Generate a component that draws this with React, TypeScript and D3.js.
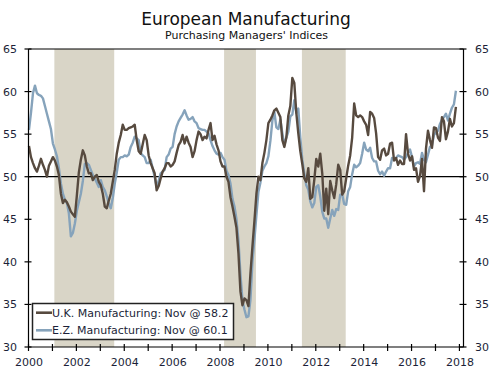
import React from "react";
import * as d3 from "d3";

// Monthly PMI values, Jan 2000 .. Nov 2017
const ukPmi: number[] = [
  // 2000
  53.6, 52.3, 51.6, 51.0, 50.6, 51.3, 52.1, 51.4, 50.8, 50.0, 51.3, 51.8,
  // 2001
  52.3, 51.9, 51.2, 50.2, 48.0, 46.9, 47.3, 47.0, 46.5, 45.9, 45.6, 45.3,
  // 2002
  47.8, 50.5, 52.0, 53.1, 52.5, 51.2, 50.4, 50.4, 49.6, 50.0, 50.2, 49.4,
  // 2003
  49.0, 48.0, 46.5, 46.3, 47.2, 48.0, 49.4, 50.8, 52.7, 54.0, 54.9, 56.1,
  // 2004
  55.5, 55.5, 55.7, 55.8, 55.9, 56.1, 54.3, 53.0, 52.7, 53.8, 54.9, 54.3,
  // 2005
  52.5, 51.6, 51.0, 50.4, 48.4, 48.9, 49.8, 50.6, 51.0, 51.6, 51.6, 51.2,
  // 2006
  51.4, 51.8, 52.8, 53.7, 54.1, 54.9, 53.9, 54.7, 54.0, 53.5, 52.3, 53.0,
  // 2007
  54.3, 55.3, 55.0, 54.3, 54.7, 54.5, 55.5, 56.3, 54.3, 54.8, 53.8, 53.1,
  // 2008
  51.8, 51.2, 51.2, 50.0, 49.4, 47.6, 46.5, 45.3, 44.0, 41.0, 36.5, 34.9,
  // 2009
  35.7, 35.5, 34.8, 38.6, 41.8, 44.8, 48.0, 50.0, 49.6, 51.6, 52.8, 54.3,
  // 2010
  56.3, 56.7, 57.2, 57.8, 58.0, 57.5, 57.0, 54.3, 53.5, 54.6, 57.2, 58.3,
  // 2011
  61.6, 61.0, 57.5, 55.1, 53.0, 51.5, 49.8, 49.4, 51.0, 47.4, 47.6, 49.6,
  // 2012
  52.1, 51.2, 52.7, 50.4, 46.0, 48.6, 45.6, 49.5, 48.4, 47.5, 49.1, 51.4,
  // 2013
  50.8, 47.9, 48.3, 49.8, 51.3, 52.5, 54.6, 58.6, 57.2, 57.0, 57.2, 57.0,
  // 2014
  56.5, 56.1, 54.9, 57.6, 57.4, 56.9, 55.1, 52.3, 52.0, 53.1, 53.3, 52.5,
  // 2015
  52.7, 53.9, 54.0, 51.9, 52.2, 51.4, 51.9, 51.5, 51.5, 55.0, 52.7, 51.9,
  // 2016
  52.4, 50.8, 51.0, 49.4, 50.1, 52.1, 48.3, 53.3, 55.4, 54.3, 53.4, 55.8,
  // 2017
  55.7, 54.6, 54.2, 57.0, 56.5, 54.4, 55.3, 56.8, 55.9, 56.3, 58.2,
];

const ezPmi: number[] = [
  // 2000
  55.5, 57.5, 59.8, 60.7, 59.8, 59.6, 59.5, 59.2, 58.3, 57.4, 56.5, 55.6,
  // 2001
  53.9, 53.2, 52.4, 51.0, 49.2, 48.0, 47.3, 46.9, 45.7, 43.0, 43.4, 44.5,
  // 2002
  46.0, 47.0, 48.0, 49.5, 51.5, 51.6, 51.4, 50.8, 50.2, 49.8, 49.3, 48.8,
  // 2003
  49.6, 48.8, 48.4, 47.7, 46.9, 46.3, 47.5, 49.2, 50.5, 52.0, 52.3, 52.3,
  // 2004
  52.5, 52.4, 52.6, 53.5, 54.0, 54.7, 54.5, 54.3, 52.8, 52.5, 52.3, 51.6,
  // 2005
  51.6, 52.0, 51.0, 50.0, 48.8, 49.5, 50.4, 50.6, 50.8, 52.3, 52.6, 53.3,
  // 2006
  53.5, 55.0, 55.9, 56.5, 56.9, 57.3, 57.8, 57.2, 56.7, 56.8, 57.0, 56.5,
  // 2007
  56.3, 55.7, 55.6, 55.5, 55.5, 55.3, 55.1, 54.3, 53.6, 53.1, 52.7, 52.6,
  // 2008
  52.8, 52.3, 52.0, 50.7, 50.2, 49.2, 47.4, 46.5, 45.0, 42.5, 38.5, 35.5,
  // 2009
  34.4, 33.5, 33.6, 35.5, 40.0, 42.6, 45.5, 48.2, 49.3, 50.7, 51.2, 51.6,
  // 2010
  52.4, 54.2, 56.6, 57.6, 55.8, 55.6, 56.7, 55.1, 53.7, 54.6, 55.3, 57.1,
  // 2011
  57.3, 59.0, 57.5, 58.0, 54.6, 52.0, 50.4, 49.0, 48.5, 47.1, 46.4, 46.9,
  // 2012
  48.8, 49.0, 47.7, 45.9, 45.1, 45.1, 44.0, 45.1, 46.1, 45.4, 46.2, 46.1,
  // 2013
  47.9, 47.9, 46.8, 46.7, 48.3, 48.8, 50.3, 51.4, 51.1, 51.3, 51.6, 52.7,
  // 2014
  54.0, 53.2, 53.0, 53.4, 52.2, 51.8, 51.8, 50.7, 50.3, 50.6, 50.1, 50.6,
  // 2015
  51.0, 51.0, 52.2, 52.0, 52.2, 52.5, 52.4, 52.3, 52.0, 52.3, 52.8, 53.2,
  // 2016
  52.3, 51.2, 51.6, 51.7, 51.5, 52.8, 52.0, 51.7, 52.6, 53.5, 53.7, 54.9,
  // 2017
  55.2, 55.4, 56.2, 56.7, 57.0, 57.4, 56.6, 57.4, 58.1, 58.5, 60.1,
];

const recessionStarts = [2001.08, 2008.17, 2011.42];
const recessionEnds = [2003.58, 2009.5, 2013.25];

const yTicks = [30, 35, 40, 45, 50, 55, 60, 65];
const xTickYears = d3.range(2000, 2019);
const xLabelYears = [2000, 2002, 2004, 2006, 2008, 2010, 2012, 2014, 2016, 2018];

const seriesNames = ["U.K. Manufacturing: Nov @ 58.2", "E.Z. Manufacturing: Nov @ 60.1"];
const seriesColors = ["#574a3f", "#86a3bb"];

const W = 500;
const H = 376;
const FONT = "'DejaVu Sans', Verdana, sans-serif";
const LABEL = "#1c1f38";

export default function App() {
  const x = d3.scaleLinear().domain([2000, 2018.17]).range([28.5, 463.5]);
  const y = d3.scaleLinear().domain([30, 65]).range([347, 49]);
  const [x0, x1] = x.range();
  const [y0, y1] = y.range();

  const line = d3
    .line<number>()
    .x((_, i) => x(2000 + i / 12 + 0.02))
    .y((d) => y(d));

  return (
    <svg
      width={W}
      height={H}
      style={{ position: "absolute", left: 0, top: 0, background: "#fff" }}
      fontFamily={FONT}
    >
      <rect x={0} y={0} width={W} height={H} fill="#fff" />
      {recessionStarts.map((s, i) => (
        <rect
          key={i}
          x={x(s)}
          y={y1}
          width={x(recessionEnds[i]) - x(s)}
          height={y0 - y1}
          fill="#d9d5c7"
        />
      ))}
      {/* 50 line */}
      <line x1={x0} x2={x1} y1={y(50)} y2={y(50)} stroke="#000" strokeWidth={1.2} />

      {/* series */}
      <path d={line(ezPmi) || ""} fill="none" stroke={seriesColors[1]} strokeWidth={2.4} strokeLinejoin="round" />
      <path d={line(ukPmi) || ""} fill="none" stroke={seriesColors[0]} strokeWidth={2.4} strokeLinejoin="round" />

      {/* frame */}
      <line x1={x0} x2={x1} y1={y1} y2={y1} stroke="#000" strokeWidth={1.2} />
      <line x1={x0} x2={x1} y1={y0} y2={y0} stroke="#000" strokeWidth={1.2} />
      <line x1={x0} x2={x0} y1={y1} y2={y0} stroke="#000" strokeWidth={1.2} />
      <line x1={x1} x2={x1} y1={y1} y2={y0} stroke="#000" strokeWidth={1.2} />

      {/* y ticks & labels */}
      {yTicks.map((t) => (
        <g key={t}>
          <line x1={x0 - 4} x2={x0 + 3} y1={y(t)} y2={y(t)} stroke="#000" strokeWidth={1.2} />
          <line x1={x1 - 4} x2={x1 + 3} y1={y(t)} y2={y(t)} stroke="#000" strokeWidth={1.2} />
          <text x={17} y={y(t) + 4} fontSize={11} textAnchor="end" fill={LABEL}>
            {t}
          </text>
          <text x={475} y={y(t) + 4} fontSize={11} textAnchor="start" fill={LABEL}>
            {t}
          </text>
        </g>
      ))}

      {/* x ticks & labels */}
      {xTickYears.map((yr) => (
        <line key={yr} x1={x(yr)} x2={x(yr)} y1={y0 - 3} y2={y0 + 4} stroke="#000" strokeWidth={1.2} />
      ))}
      {xLabelYears.map((yr) => (
        <text key={yr} x={x(yr) + 0.5} y={365.5} fontSize={11} textAnchor="middle" fill={LABEL}>
          {yr}
        </text>
      ))}

      {/* title */}
      <text x={246} y={25} fontSize={17} textAnchor="middle" fill="#111">
        European Manufacturing
      </text>
      <text x={246.5} y={39} fontSize={11} textAnchor="middle" fill="#111">
        Purchasing Managers' Indices
      </text>

      {/* legend */}
      <rect x={32.5} y={303.5} width={201} height={36} fill="#fff" stroke="#222" strokeWidth={1.5} />
      {seriesNames.map((n, i) => (
        <g key={n}>
          <line x1={36} x2={52} y1={312.7 + i * 17.6} y2={312.7 + i * 17.6} stroke={seriesColors[i]} strokeWidth={2.6} />
          <text x={52} y={317 + i * 17.4} fontSize={11} fill={LABEL}>
            {n}
          </text>
        </g>
      ))}
    </svg>
  );
}
